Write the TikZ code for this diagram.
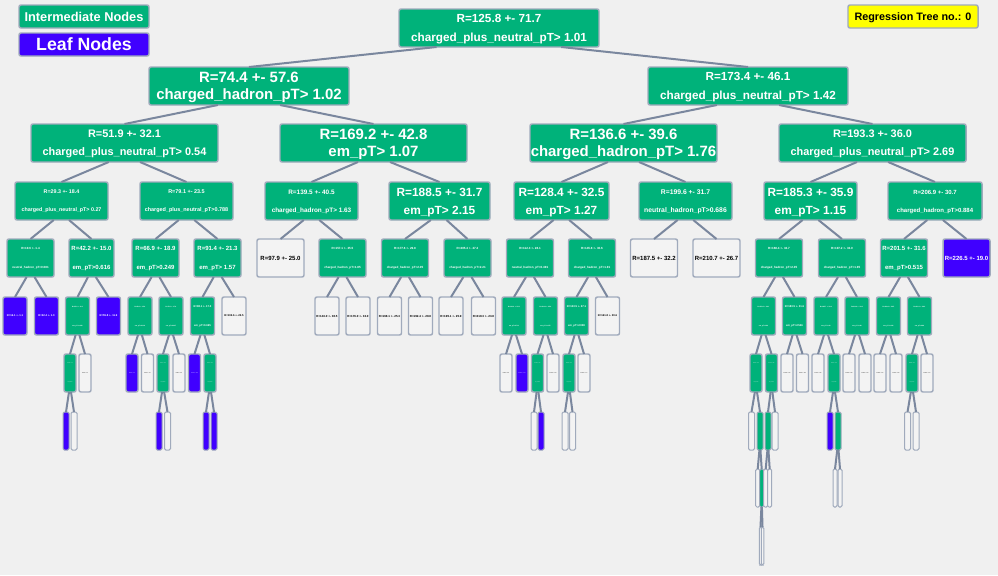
\documentclass[tikz,border=0pt]{standalone}
\usepackage{fontspec}
\setmainfont{Liberation Sans}
\definecolor{bgc}{HTML}{F0F0F0}
\definecolor{grn}{HTML}{00B27A}
\definecolor{blu}{HTML}{4000FF}
\definecolor{wht}{HTML}{F3F3F3}
\definecolor{nbd}{HTML}{A0AABC}
\definecolor{edc}{HTML}{7A879E}
\definecolor{ylw}{HTML}{FFFF00}
\newcommand\fs[2]{\fontsize{#1}{#2}\selectfont\bfseries}
\newcommand\nd[6]{\node[#2, minimum width=#5*0.75pt] (#1) at (#3,#4) {#6};}
\newcommand\ed[2]{\path (#1.south) -- (#2.north) coordinate[pos=0.25] (tmpE);
  \draw[edg] (#1.south -| tmpE) -- (#2.north);}
\begin{document}
\begin{tikzpicture}[x=0.75pt,y=-0.75pt,
  base/.style={draw=nbd, line width=1.1pt, rounded corners=1.5pt, inner sep=0pt,
    outer sep=0pt, align=center, minimum height=28.5pt, text depth=0pt},
  gn/.style={base, fill=grn, text=white},
  bl/.style={base, fill=blu, text=white},
  wt/.style={base, fill=wht, text=black},
  yl/.style={base, fill=ylw, text=black},
  thin/.style={line width=0.75pt, rounded corners=1pt},
  lg/.style={minimum height=17.25pt},
  fA/.style={font=\fs{11.2pt}{12.75pt}},
  fB/.style={font=\fs{8.8pt}{14.25pt}},
  fC/.style={font=\fs{8.2pt}{13.5pt}},
  fD/.style={font=\fs{8.9pt}{13.5pt}},
  fE/.style={font=\fs{#1}{13.5pt}},
  fF/.style={font=\fs{4.5pt}{14.25pt}},
  fG/.style={font=\fs{2.25pt}{14.25pt}},
  fH/.style={font=\fs{#1}{14.25pt}},
  edg/.style={draw=edc, line width=1.5pt},
]
\fill[bgc] (0,0) rectangle (998,575);
\useasboundingbox (0,0) rectangle (998,575);

% legend
\nd{legi}{gn,lg,font=\fs{9.6pt}{11pt}}{84}{16.5}{130}{Intermediate Nodes}
\nd{legl}{bl,lg,font=\fs{13.3pt}{14pt}}{84}{44.5}{130}{Leaf Nodes}
\nd{rtn}{yl,lg,font=\fs{8.1pt}{10pt}}{913}{16.5}{130}{Regression Tree no.: 0}

% level 0-2
\nd{r}{gn,fB}{499}{28}{200}{R=125.8 +- 71.7\\charged\_plus\_neutral\_pT> 1.01}
\nd{a}{gn,fA}{249}{86}{200}{R=74.4 +- 57.6\\charged\_hadron\_pT> 1.02}
\nd{b}{gn,fB}{748}{86}{200}{R=173.4 +- 46.1\\charged\_plus\_neutral\_pT> 1.42}
\nd{aa}{gn,fC}{124.5}{143}{187}{R=51.9 +- 32.1\\charged\_plus\_neutral\_pT> 0.54}
\nd{ab}{gn,fA}{373.5}{143}{187}{R=169.2 +- 42.8\\em\_pT> 1.07}
\nd{ba}{gn,fA}{623.5}{143}{187}{R=136.6 +- 39.6\\charged\_hadron\_pT> 1.76}
\nd{bb}{gn,fC}{872.5}{143}{187}{R=193.3 +- 36.0\\charged\_plus\_neutral\_pT> 2.69}

% level 3
\nd{aaa}{gn,fE=4pt}{61.5}{201}{93}{R=29.3 +- 18.4\\charged\_plus\_neutral\_pT> 0.27}
\nd{aab}{gn,fE=4.1pt}{186.5}{201}{93}{R=79.1 +- 23.5\\charged\_plus\_neutral\_pT>0.788}
\nd{aba}{gn,fE=4.8pt}{311.5}{201}{93}{R=139.5 +- 40.5\\charged\_hadron\_pT> 1.63}
\nd{abb}{gn,fD}{439.5}{201}{101}{R=188.5 +- 31.7\\em\_pT> 2.15}
\nd{baa}{gn,fD}{561.5}{201}{95}{R=128.4 +- 32.5\\em\_pT> 1.27}
\nd{bab}{gn,fE=5.1pt}{685.5}{201}{93}{R=199.6 +- 31.7\\neutral\_hadron\_pT>0.686}
\nd{bba}{gn,fD}{810.5}{201}{93}{R=185.3 +- 35.9\\em\_pT> 1.15}
\nd{bbb}{gn,fE=4.5pt}{935}{201}{94}{R=206.9 +- 30.7\\charged\_hadron\_pT>0.884}

% level 4
\nd{aaaa}{gn,fG}{30.5}{258}{47}{R=19.6 +- 1.4\\neutral\_hadron\_pT>0.081}
\nd{aaab}{gn,fF}{91.5}{258}{45}{R=42.2 +- 15.0\\em\_pT>0.616}
\nd{aaba}{gn,fF}{155.5}{258}{47}{R=66.9 +- 18.9\\em\_pT>0.249}
\nd{aabb}{gn,fF}{217.5}{258}{47}{R=91.4 +- 21.3\\em\_pT> 1.57}
\nd{abaa}{wt,fF}{280.5}{258}{47}{R=97.9 +- 25.0}
\nd{abab}{gn,fG}{342.5}{258}{47}{R=157.1 +- 35.5\\charged\_hadron\_pT>1.85}
\nd{abba}{gn,fG}{405}{258}{47}{R=177.6 +- 29.8\\charged\_hadron\_pT>2.05}
\nd{abbb}{gn,fG}{467.5}{258}{47}{R=205.4 +- 27.2\\charged\_hadron\_pT>2.21}
\nd{baaa}{gn,fG}{530}{258}{47}{R=112.3 +- 28.1\\neutral\_hadron\_pT>0.491}
\nd{baab}{gn,fG}{592}{258}{47}{R=145.8 +- 30.6\\charged\_hadron\_pT>1.91}
\nd{baba}{wt,fF}{654}{258}{47}{R=187.5 +- 32.2}
\nd{babb}{wt,fF}{716.5}{258}{47}{R=210.7 +- 26.7}
\nd{bbaa}{gn,fG}{779}{258}{47}{R=168.4 +- 32.7\\charged\_hadron\_pT>2.05}
\nd{bbab}{gn,fG}{842}{258}{47}{R=197.2 +- 33.0\\charged\_hadron\_pT>1.95}
\nd{bbba}{gn,fF}{904}{258}{47}{R=201.5 +- 31.6\\em\_pT>0.515}
\nd{bbbb}{bl,fF}{966.5}{258}{47}{R=226.5 +- 19.0}

% level 5
\nd{aaaaa}{bl,fH=2pt}{15}{316}{24}{R=16.1 +- 1.1}
\nd{aaaab}{bl,fH=2pt}{46.5}{316}{24}{R=22.4 +- 1.0}
\nd{aaaba}{gn,fH=1.2pt}{77.5}{316}{24}{R=35.6 +- 11.2\\em\_pT>0.262}
\nd{aaabb}{bl,fH=2pt}{108.5}{316}{24}{R=55.8 +- 11.9}
\nd{aabaa}{gn,fH=1.2pt}{140}{316}{24}{R=58.3 +- 15.4\\em\_pT>0.116}
\nd{aabab}{gn,fH=1.2pt}{171}{316}{24}{R=75.0 +- 17.6\\em\_pT>0.407}
\nd{aabba}{gn,fH=2pt}{202.5}{316}{24}{R=88.1 +- 17.0\\em\_pT>0.695}
\nd{aabbb}{wt,fH=2pt}{234}{316}{24}{R=102.6 +- 22.5}
\nd{ababa}{wt,fH=2.2pt}{327}{316}{24}{R=143.0 +- 30.5}
\nd{ababb}{wt,fH=2.2pt}{358}{316}{24}{R=176.0 +- 33.0}
\nd{abbaa}{wt,fH=2.2pt}{389.5}{316}{24}{R=168.1 +- 25.3}
\nd{abbab}{wt,fH=2.2pt}{420.5}{316}{24}{R=192.4 +- 29.8}
\nd{abbba}{wt,fH=2.2pt}{451}{316}{24}{R=195.1 +- 25.9}
\nd{abbbb}{wt,fH=2.2pt}{483.5}{316}{24}{R=219.3 +- 23.8}
\nd{baaaa}{gn,fH=1.2pt}{514}{316}{24}{R=101.4 +- 25.6\\em\_pT>0.711}
\nd{baaab}{gn,fH=1.2pt}{545.5}{316}{24}{R=124.9 +- 25.0\\em\_pT>0.975}
\nd{baaba}{gn,fH=2pt}{576.5}{316}{24}{R=133.5 +- 27.1\\em\_pT>2.008}
\nd{baabb}{wt,fH=2pt}{607.5}{316}{24}{R=161.8 +- 30.6}
\nd{bbaaa}{gn,fH=1.2pt}{763.5}{316}{24}{R=159.2 +- 30.1\\em\_pT>1.80}
\nd{bbaab}{gn,fH=2pt}{794.5}{316}{24}{R=183.5 +- 31.6\\em\_pT>2.546}
\nd{bbaba}{gn,fH=1.2pt}{826}{316}{24}{R=185.7 +- 30.4\\em\_pT>1.62}
\nd{bbabb}{gn,fH=1.2pt}{857}{316}{24}{R=211.6 +- 30.2\\em\_pT>2.38}
\nd{bbbaa}{gn,fH=1.2pt}{888.5}{316}{24}{R=189.9 +- 30.5\\em\_pT>0.331}
\nd{bbbab}{gn,fH=1.2pt}{919.5}{316}{24}{R=212.1 +- 29.3\\em\_pT>0.86}

% level 6
\nd{aaabaa}{gn,fH=0.6pt}{70}{373}{12}{R=31.2 +- 9.5\\em\_pT>0.18}
\nd{aaabab}{wt,fH=0.7pt}{85}{373}{12}{R=44.0 +- 9.8}
\nd{aabaaa}{bl,fH=0.7pt}{132}{373}{12}{R=47.6 +- 9.9}
\nd{aabaab}{wt,fH=0.7pt}{147.5}{373}{12}{R=64.5 +- 14.1}
\nd{aababa}{gn,fH=0.6pt}{163}{373}{12}{R=69.3 +- 14.8\\em\_pT>0.30}
\nd{aababb}{wt,fH=0.7pt}{179}{373}{12}{R=86.2 +- 16.4}
\nd{aabbaa}{bl,fH=0.7pt}{194.5}{373}{12}{R=74.2 +- 12.8}
\nd{aabbab}{gn,fH=0.6pt}{210}{373}{12}{R=93.4 +- 14.6\\em\_pT>1.02}
\nd{baaaaa}{wt,fH=0.7pt}{506}{373}{12}{R=90.8 +- 22.0}
\nd{baaaab}{bl,fH=0.7pt}{522}{373}{12}{R=115.7 +- 23.4}
\nd{baaaba}{gn,fH=0.6pt}{537.5}{373}{12}{R=118.3 +- 23.0\\em\_pT>0.86}
\nd{baaabb}{wt,fH=0.7pt}{553}{373}{12}{R=141.2 +- 24.9}
\nd{baabaa}{gn,fH=0.6pt}{569}{373}{12}{R=127.9 +- 25.1\\em\_pT>1.71}
\nd{baabab}{wt,fH=0.7pt}{584}{373}{12}{R=151.0 +- 27.7}
\nd{bbaaaa}{gn,fH=0.6pt}{756}{373}{12}{R=150.1 +- 28.4\\em\_pT>1.45}
\nd{bbaaab}{gn,fH=0.6pt}{771.5}{373}{12}{R=173.0 +- 28.9\\em\_pT>2.31}
\nd{bbaaba}{wt,fH=0.7pt}{787}{373}{12}{R=176.8 +- 29.5}
\nd{bbaabb}{wt,fH=0.7pt}{802.5}{373}{12}{R=199.7 +- 30.8}
\nd{bbabaa}{wt,fH=0.7pt}{818}{373}{12}{R=176.4 +- 28.6}
\nd{bbabab}{gn,fH=0.6pt}{834}{373}{12}{R=197.3 +- 29.9\\em\_pT>2.09}
\nd{bbabba}{wt,fH=0.7pt}{849}{373}{12}{R=203.5 +- 28.8}
\nd{bbabbb}{wt,fH=0.7pt}{865}{373}{12}{R=225.1 +- 28.4}
\nd{bbbaaa}{wt,fH=0.7pt}{880}{373}{12}{R=183.6 +- 29.7}
\nd{bbbaab}{wt,fH=0.7pt}{896}{373}{12}{R=201.2 +- 29.5}
\nd{bbbaba}{gn,fH=0.6pt}{912}{373}{12}{R=206.4 +- 28.7\\em\_pT>0.71}
\nd{bbbabb}{wt,fH=0.7pt}{927}{373}{12}{R=226.0 +- 27.6}

% level 7
\nd{aaabaaa}{bl,thin}{66}{431}{6}{}
\nd{aaabaab}{wt,thin}{74}{431}{6}{}
\nd{aababaa}{bl,thin}{159}{431}{6}{}
\nd{aababab}{wt,thin}{167.5}{431}{6}{}
\nd{aabbaba}{bl,thin}{206}{431}{6}{}
\nd{aabbabb}{bl,thin}{214}{431}{6}{}
\nd{baaabaa}{wt,thin}{534}{431}{6}{}
\nd{baaabab}{bl,thin}{541}{431}{6}{}
\nd{baabaaa}{wt,thin}{565}{431}{6}{}
\nd{baabaab}{wt,thin}{572.5}{431}{6}{}
\nd{bbaaaaa}{wt,thin}{751.5}{431}{6}{}
\nd{bbaaaab}{gn,thin}{760}{431}{6}{}
\nd{bbaaaba}{gn,thin}{768}{431}{6}{}
\nd{bbaaabb}{wt,thin}{775}{431}{6}{}
\nd{bbababa}{bl,thin}{830}{431}{6}{}
\nd{bbababb}{gn,thin}{838}{431}{6}{}
\nd{bbbabaa}{wt,thin}{907.5}{431}{6}{}
\nd{bbbabab}{wt,thin}{916}{431}{6}{}

% level 8
\nd{bbaaaaba}{wt,thin}{757.7}{488}{4}{}
\nd{bbaaaabb}{gn,thin}{761.7}{488}{4}{}
\nd{bbaaabaa}{wt,thin}{765.7}{488}{4}{}
\nd{bbaaabab}{wt,thin}{769.7}{488}{4}{}
\nd{bbababba}{wt,thin}{835}{488}{4}{}
\nd{bbababbb}{wt,thin}{840}{488}{4}{}

% level 9
\nd{bbaaaabba}{wt,thin}{760.5}{546}{2.5}{}
\nd{bbaaaabbb}{wt,thin}{762.5}{546}{2.5}{}

% edges
\ed{r}{a}\ed{r}{b}
\ed{a}{aa}\ed{a}{ab}\ed{b}{ba}\ed{b}{bb}
\ed{aa}{aaa}\ed{aa}{aab}\ed{ab}{aba}\ed{ab}{abb}\ed{ba}{baa}\ed{ba}{bab}\ed{bb}{bba}\ed{bb}{bbb}
\ed{aaa}{aaaa}\ed{aaa}{aaab}\ed{aab}{aaba}\ed{aab}{aabb}\ed{aba}{abaa}\ed{aba}{abab}
\ed{abb}{abba}\ed{abb}{abbb}\ed{baa}{baaa}\ed{baa}{baab}\ed{bab}{baba}\ed{bab}{babb}
\ed{bba}{bbaa}\ed{bba}{bbab}\ed{bbb}{bbba}\ed{bbb}{bbbb}
\ed{aaaa}{aaaaa}\ed{aaaa}{aaaab}\ed{aaab}{aaaba}\ed{aaab}{aaabb}\ed{aaba}{aabaa}\ed{aaba}{aabab}
\ed{aabb}{aabba}\ed{aabb}{aabbb}\ed{abab}{ababa}\ed{abab}{ababb}\ed{abba}{abbaa}\ed{abba}{abbab}
\ed{abbb}{abbba}\ed{abbb}{abbbb}\ed{baaa}{baaaa}\ed{baaa}{baaab}\ed{baab}{baaba}\ed{baab}{baabb}
\ed{bbaa}{bbaaa}\ed{bbaa}{bbaab}\ed{bbab}{bbaba}\ed{bbab}{bbabb}\ed{bbba}{bbbaa}\ed{bbba}{bbbab}
\ed{aaaba}{aaabaa}\ed{aaaba}{aaabab}\ed{aabaa}{aabaaa}\ed{aabaa}{aabaab}\ed{aabab}{aababa}\ed{aabab}{aababb}
\ed{aabba}{aabbaa}\ed{aabba}{aabbab}\ed{baaaa}{baaaaa}\ed{baaaa}{baaaab}\ed{baaab}{baaaba}\ed{baaab}{baaabb}
\ed{baaba}{baabaa}\ed{baaba}{baabab}\ed{bbaaa}{bbaaaa}\ed{bbaaa}{bbaaab}\ed{bbaab}{bbaaba}\ed{bbaab}{bbaabb}
\ed{bbaba}{bbabaa}\ed{bbaba}{bbabab}\ed{bbabb}{bbabba}\ed{bbabb}{bbabbb}\ed{bbbaa}{bbbaaa}\ed{bbbaa}{bbbaab}
\ed{bbbab}{bbbaba}\ed{bbbab}{bbbabb}
\ed{aaabaa}{aaabaaa}\ed{aaabaa}{aaabaab}\ed{aababa}{aababaa}\ed{aababa}{aababab}
\ed{aabbab}{aabbaba}\ed{aabbab}{aabbabb}\ed{baaaba}{baaabaa}\ed{baaaba}{baaabab}
\ed{baabaa}{baabaaa}\ed{baabaa}{baabaab}\ed{bbaaaa}{bbaaaaa}\ed{bbaaaa}{bbaaaab}
\ed{bbaaab}{bbaaaba}\ed{bbaaab}{bbaaabb}\ed{bbabab}{bbababa}\ed{bbabab}{bbababb}
\ed{bbbaba}{bbbabaa}\ed{bbbaba}{bbbabab}
\ed{bbaaaab}{bbaaaaba}\ed{bbaaaab}{bbaaaabb}\ed{bbaaaba}{bbaaabaa}\ed{bbaaaba}{bbaaabab}
\ed{bbababb}{bbababba}\ed{bbababb}{bbababbb}
\ed{bbaaaabb}{bbaaaabba}\ed{bbaaaabb}{bbaaaabbb}
\end{tikzpicture}
\end{document}
